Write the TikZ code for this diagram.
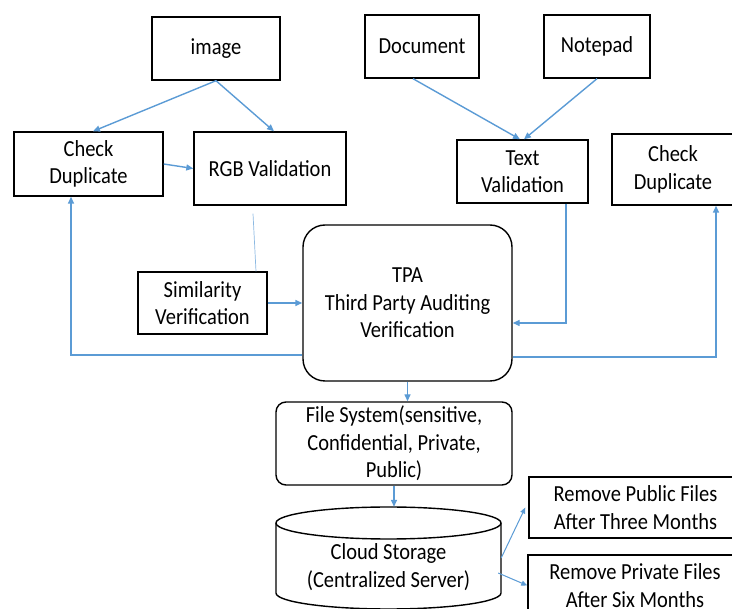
\documentclass[tikz,border=0pt]{standalone}
\usepackage{fontspec}
\setmainfont[FakeStretch=0.89]{Carlito}
\usetikzlibrary{arrows.meta,calc}
\definecolor{arrowblue}{RGB}{91,155,213}
\newcommand\dfont{\fontsize{23}{27.5}\selectfont}
\tikzset{
  box/.style={draw=black, line width=1.4pt, inner sep=0pt, align=center},
  rbox/.style={box, rounded corners=#1},
  conn/.style={draw=arrowblue, line width=1.4pt, -{Triangle[length=7pt,width=6pt]}},
  thinconn/.style={draw=arrowblue, line width=1pt, -{Triangle[length=6pt,width=5pt]}},
  faint/.style={draw=arrowblue!70, line width=0.7pt},
  every node/.append style={font=\dfont}
}
\begin{document}
\begin{tikzpicture}[x=1pt,y=-1pt]
\useasboundingbox (0,0) rectangle (732,609);
% boxes
\node[box, minimum width=128pt, minimum height=63pt] (img) at (216,48.5) {image};
\node[box, minimum width=114pt, minimum height=63pt] (doc) at (422,46.5) {Document};
\node[box, minimum width=106pt, minimum height=63pt] (note) at (597,46.5) {Notepad};
\node[box, minimum width=149pt, minimum height=64pt] (cdl) at (88.5,164) {Check\\Duplicate};
\node[box, minimum width=152pt, minimum height=73pt] (rgb) at (270,168.5) {RGB Validation};
\node[box, minimum width=131pt, minimum height=63pt] (txt) at (522.5,171.5) {Text\\Validation};
\node[box, minimum width=122pt, minimum height=71pt] (cdr) at (673,169.5) {Check\\Duplicate};
\node[box, minimum width=129pt, minimum height=62pt] (sim) at (202.5,303) {Similarity\\Verification};
\node[rbox=22pt, minimum width=209pt, minimum height=156pt] (tpa) at (407.5,303) {TPA\\Third Party Auditing\\Verification};
\node[rbox=10pt, minimum width=236pt, minimum height=83pt] (fs) at (394,443.5) {File System(sensitive,\\Confidential, Private,\\Public)};
% cylinder
\node[minimum width=225pt, minimum height=102pt, inner sep=0pt] (cyl) at (388.5,558) {};
\draw[line width=1.4pt] (276,523) -- (276,593) arc[start angle=180, end angle=360, x radius=112.5pt, y radius=16pt] -- (501,523);
\draw[line width=1.4pt] (388.5,523) ellipse [x radius=112.5pt, y radius=16pt];
\node[align=center, inner sep=0pt] (cloudtxt) at (388.5,567) {Cloud Storage\\(Centralized Server)};
\node[box, minimum width=213pt, minimum height=61pt] (rpub) at (635.5,507.5) {Remove Public Files\\After Three Months};
\node[box, minimum width=214pt, minimum height=61pt] (rpriv) at (635,585.5) {Remove Private Files\\After Six Months};
% connectors
\draw[conn] (img.south) -- ([xshift=4.5pt]cdl.north);
\draw[conn] (img.south) -- ([xshift=4pt]rgb.north);
\draw[conn] (cdl.east) -- (rgb.west);
\draw[faint] ([xshift=-17pt,yshift=-8pt]rgb.south) -- ([xshift=53.5pt]sim.north);
\draw[conn] (sim.east) -- (tpa.west);
\draw[conn] ([yshift=-52pt]tpa.west) -| ([xshift=-17.5pt]cdl.south);
\draw[conn] ([xshift=-9pt]doc.south) -- ([xshift=-2.5pt]txt.north);
\draw[conn] (note.south) -- ([xshift=1.5pt]txt.north);
\draw[conn] ([xshift=43.5pt]txt.south) |- ([yshift=-20pt]tpa.east);
\draw[conn] ([yshift=-54pt]tpa.east) -| ([xshift=43pt]cdr.south);
\draw[conn] (tpa.south) -- (tpa.south |- fs.north);
\draw[conn] (fs.south) -- (fs.south |- cyl.north);
\draw[thinconn] (cyl.east) -- ([xshift=-3pt]rpub.west);
\draw[thinconn] ([xshift=-3pt,yshift=-15pt]cyl.east) -- (rpriv.west);
\end{tikzpicture}
\end{document}
